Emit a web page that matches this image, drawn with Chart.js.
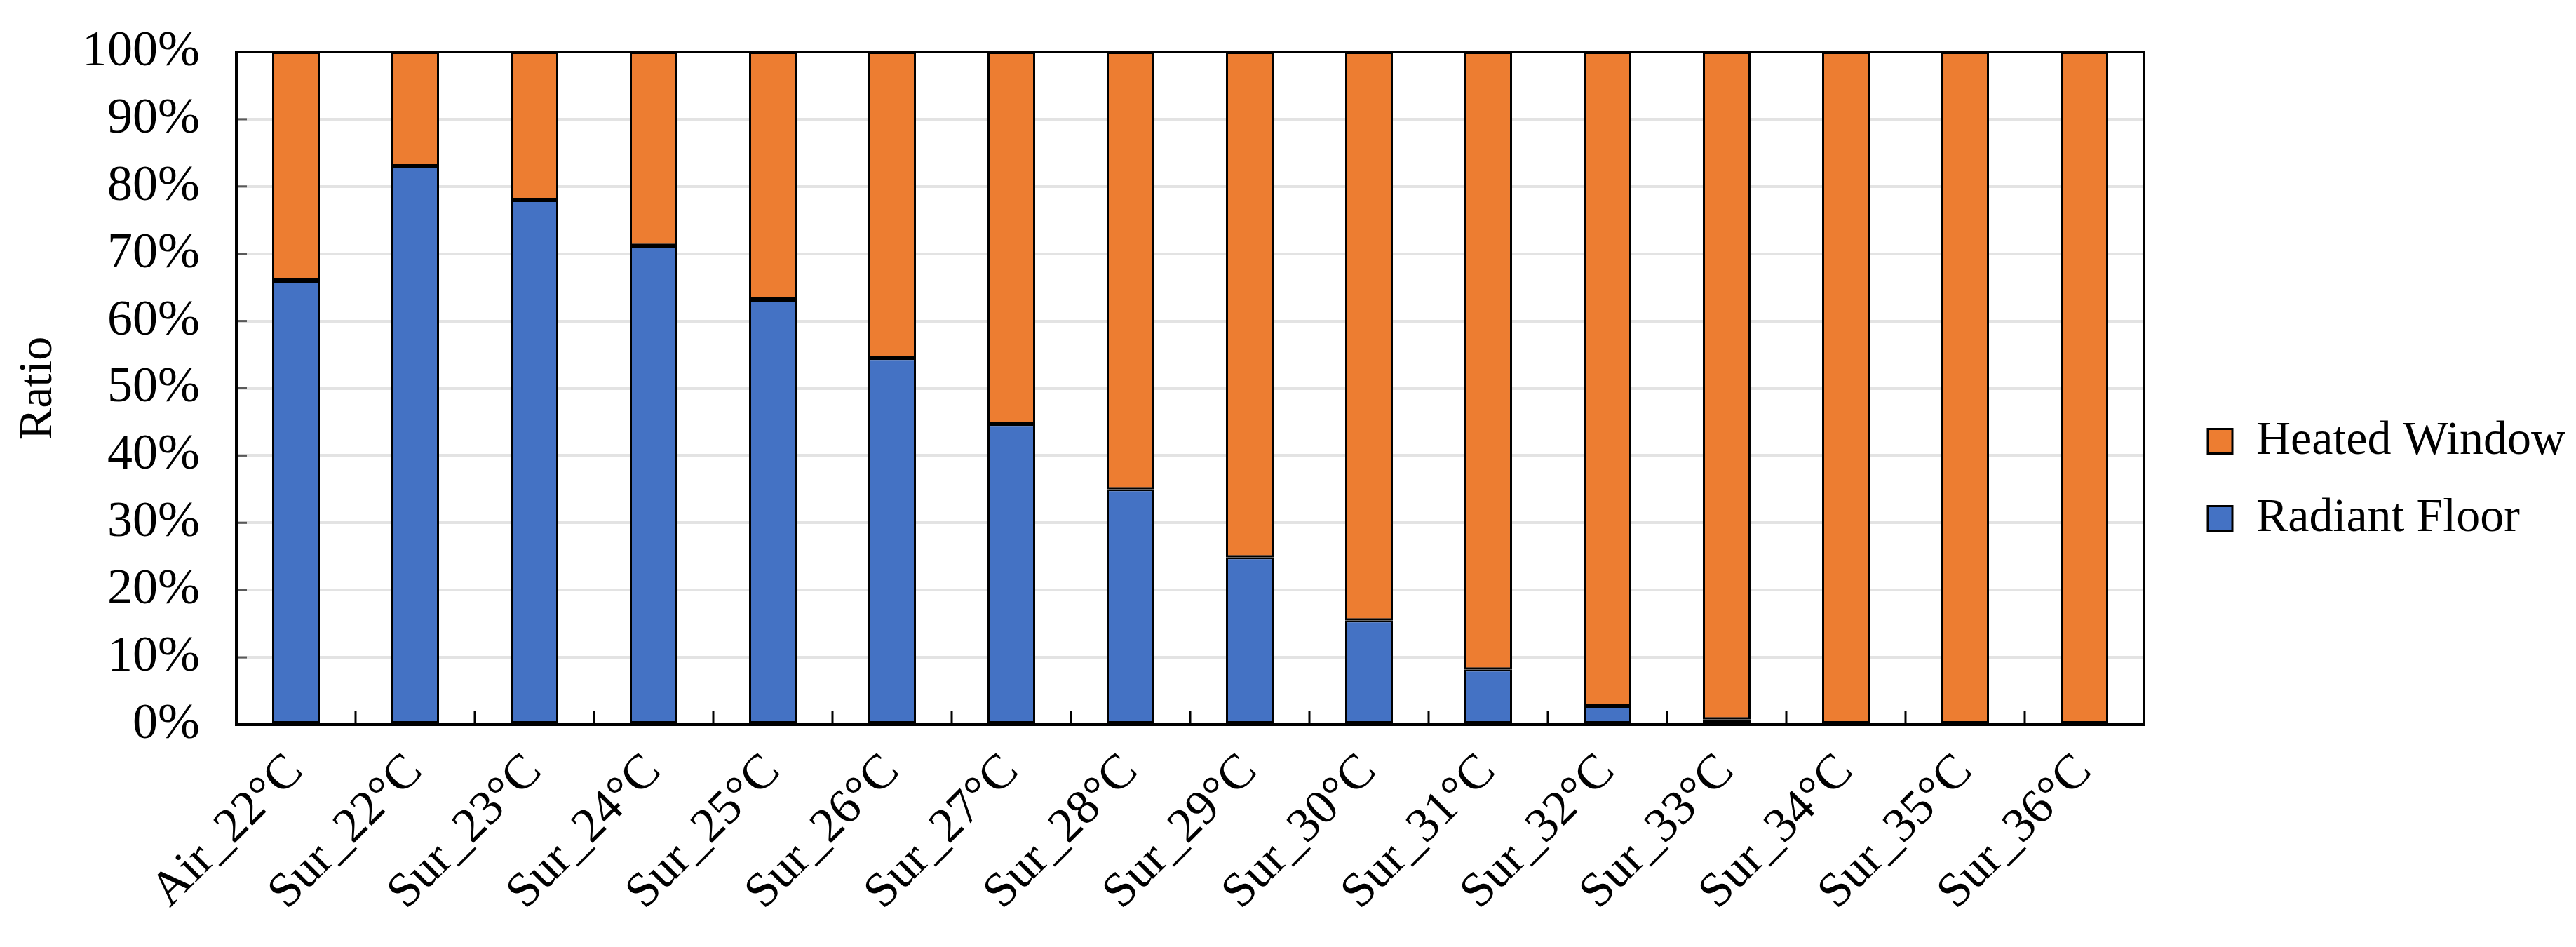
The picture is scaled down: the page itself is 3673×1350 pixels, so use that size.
<!DOCTYPE html>
<html>
<head>
<meta charset="utf-8">
<script src="https://cdn.jsdelivr.net/npm/chart.js@4.4.1/dist/chart.umd.min.js"></script>
<style>
	html, body { margin: 0; padding: 0; background: #fff; }
	#wrap { width: 3673px; height: 1350px; position: relative; }
</style>
</head>
<body>
<div id="wrap"><canvas id="ratio-chart"></canvas></div>
<script>
// Share of heating supplied by each system
const categories = ['Air_22°C', 'Sur_22°C', 'Sur_23°C', 'Sur_24°C', 'Sur_25°C', 'Sur_26°C', 'Sur_27°C', 'Sur_28°C',
	'Sur_29°C', 'Sur_30°C', 'Sur_31°C', 'Sur_32°C', 'Sur_33°C', 'Sur_34°C', 'Sur_35°C', 'Sur_36°C'];
const radiantFloor = [66, 83, 78, 71.2, 63.2, 54.5, 44.7, 35, 24.9, 15.5, 8.2, 2.8, 0.8, 0.2, 0, 0];
const heatedWindow = [34, 17, 22, 28.8, 36.8, 45.5, 55.3, 65, 75.1, 84.5, 91.8, 97.2, 99.2, 99.8, 100, 100];
const yTicks = [0, 10, 20, 30, 40, 50, 60, 70, 80, 90, 100];

(function(){
	const FONT = '"Liberation Serif", "Times New Roman", serif';
	Chart.defaults.font.family = FONT;
	Chart.defaults.color = '#000';

	// plot frame plus the short inward tick marks
	const framePlugin = {
		id: 'frame',
		afterDatasetsDraw(chart){
			const { ctx, chartArea: a, scales: { x, y } } = chart;
			ctx.save();
			ctx.lineWidth = 3;
			ctx.strokeStyle = '#000';
			for(let i = 1; i < categories.length; i++){
				const px = (x.getPixelForValue(i - 1) + x.getPixelForValue(i)) / 2;
				ctx.beginPath(); ctx.moveTo(px, a.bottom); ctx.lineTo(px, a.bottom - 20); ctx.stroke();
			}
			ctx.strokeStyle = '#595959';
			yTicks.forEach(v => {
				const py = y.getPixelForValue(v);
				ctx.beginPath(); ctx.moveTo(a.left, py); ctx.lineTo(a.left + 15, py); ctx.stroke();
			});
			ctx.lineWidth = 4;
			ctx.strokeStyle = '#000';
			ctx.strokeRect(a.left, a.top, a.width, a.height);
			ctx.restore();
		}
	};

	new Chart(document.getElementById('ratio-chart'), {
		type: 'bar',
		data: {
			labels: categories,
			datasets: [
				{ label: 'Radiant Floor', data: radiantFloor, backgroundColor: '#4472C4', borderColor: '#000', borderWidth: 3, borderSkipped: false },
				{ label: 'Heated Window', data: heatedWindow, backgroundColor: '#ED7D31', borderColor: '#000', borderWidth: 3, borderSkipped: false }
			]
		},
		options: {
			responsive: true,
			maintainAspectRatio: false,
			devicePixelRatio: 1,
			animation: false,
			datasets: { bar: { categoryPercentage: 1, barPercentage: 0.4 } },
			layout: { padding: { top: 74, right: 5, bottom: 56, left: 0 } },
			plugins: {
				tooltip: { enabled: false },
				legend: {
					position: 'right',
					reverse: true,
					labels: { boxWidth: 35, boxHeight: 35, padding: 42, font: { size: 68, family: FONT }, color: '#000' }
				}
			},
			scales: {
				x: {
					stacked: true,
					grid: { display: false },
					border: { display: false },
					ticks: { autoSkip: false, minRotation: 45, maxRotation: 45, padding: 18, font: { size: 70 } },
					afterFit: (s) => { s.height = 261; s.paddingLeft = 0; s.paddingRight = 0; }
				},
				y: {
					stacked: true,
					min: 0,
					max: 100,
					afterBuildTicks: (s) => { s.ticks = yTicks.map(v => ({ value: v })); },
					grid: { color: '#e3e3e3', lineWidth: 4, drawTicks: false },
					border: { display: false },
					ticks: { padding: 52, font: { size: 72 }, callback: (v) => v + '%' },
					title: { display: true, text: 'Ratio', font: { size: 68 }, padding: { top: 14, bottom: 0 } },
					afterFit: (s) => { s.width = 337; s.paddingTop = 0; s.paddingBottom = 0; }
				},
				// empty spacer between plot and legend
				gap: {
					position: 'right',
					display: true,
					grid: { display: false },
					border: { display: false },
					ticks: { display: false },
					afterFit: (s) => { s.width = 49; s.paddingTop = 0; s.paddingBottom = 0; }
				}
			}
		},
		plugins: [framePlugin]
	});
})();
</script>
</body>
</html>
